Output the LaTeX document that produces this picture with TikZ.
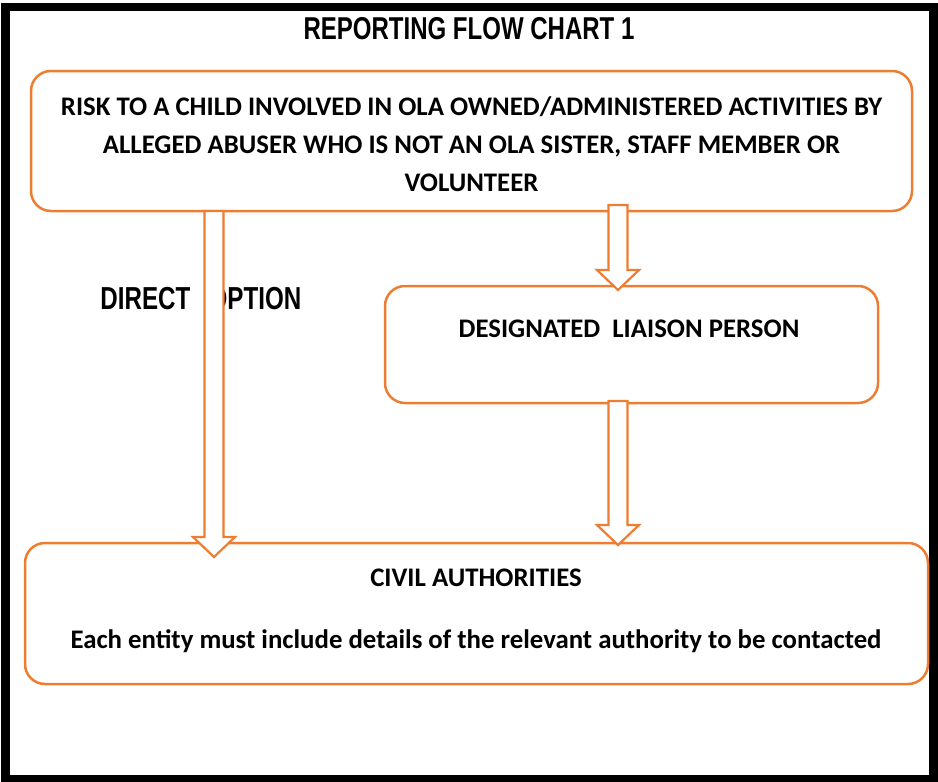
\documentclass[tikz,border=0pt]{standalone}
\usepackage{fontspec}
\setmainfont{Carlito}
\newfontfamily\narrowsans[FakeStretch=0.76]{Liberation Sans}
\usepackage{xcolor}
\usepackage{tikz}
\usetikzlibrary{calc, positioning}
\definecolor{olaorange}{HTML}{ED7D31}

\begin{document}
\begin{tikzpicture}[x=0.5pt, y=-0.5pt,
    flowbox/.style={draw=olaorange, line width=1.25pt, rounded corners=10pt, outer sep=0pt},
    boxtext/.style={font=\fontsize{13.4}{19}\selectfont\bfseries, align=center, inner sep=0pt},
    headtext/.style={font=\narrowsans\bfseries, inner sep=0pt},
    blockarrow/.style={draw=olaorange, line width=1.1pt, fill=white, to path={
        ($(\tikztostart)+(-4.75pt,0)$) -- ($(\tikztostart)+(4.75pt,0)$) -- ($(\tikztotarget)+(4.75pt,10pt)$)
        -- ($(\tikztotarget)+(10.5pt,10pt)$) -- (\tikztotarget) -- ($(\tikztotarget)+(-10.5pt,10pt)$)
        -- ($(\tikztotarget)+(-4.75pt,10pt)$) -- cycle}}]
    \useasboundingbox (0,0) rectangle (938,782);
    \draw[line width=4.25pt] (5.5,7) rectangle (933.5,779.5);

    \node[headtext, font=\narrowsans\bfseries\fontsize{15.8}{19}\selectfont] (title) at (469,28.7) {REPORTING FLOW CHART 1};

    % boxes
    \node[flowbox, minimum width=440.5pt, minimum height=70pt] (risk) at (471.5,141) {};
    \node[flowbox, minimum width=246.5pt, minimum height=58.5pt] (liaison) at (631.5,344.5) {};
    \node[flowbox, minimum width=451.5pt, minimum height=70.5pt] (civil) at (476.5,613.5) {};

    \node[boxtext] (risktxt) at (471.5,144) {RISK TO A CHILD INVOLVED IN OLA OWNED/ADMINISTERED ACTIVITIES BY\\
        ALLEGED ABUSER WHO IS NOT AN OLA SISTER, STAFF MEMBER OR\\ VOLUNTEER};
    \node[boxtext] (liaisontxt) at (629,328.5) {DESIGNATED\ \ LIAISON PERSON};
    \node[boxtext] (civiltxt) at (476,611) {CIVIL AUTHORITIES\\[12pt]
        Each entity must include details of the relevant authority to be contacted};

    \node[headtext, font=\narrowsans\bfseries\fontsize{15.9}{19}\selectfont, anchor=west] (direct) at (100,299) {DIRECT \hspace{5.8pt}OPTION};

    % arrows
    \coordinate (leftx) at (214,0);
    \coordinate (rightx) at (618,0);
    \draw[blockarrow] (risk.south -| leftx) to ($(civil.north -| leftx)+(0,-7pt)$);
    \draw[blockarrow] ($(risk.south -| rightx)+(0,3pt)$) to ($(liaison.north -| rightx)+(0,-2pt)$);
    \draw[blockarrow] ($(liaison.south -| rightx)+(0,1pt)$) to ($(civil.north -| rightx)+(0,-1pt)$);
\end{tikzpicture}
\end{document}
